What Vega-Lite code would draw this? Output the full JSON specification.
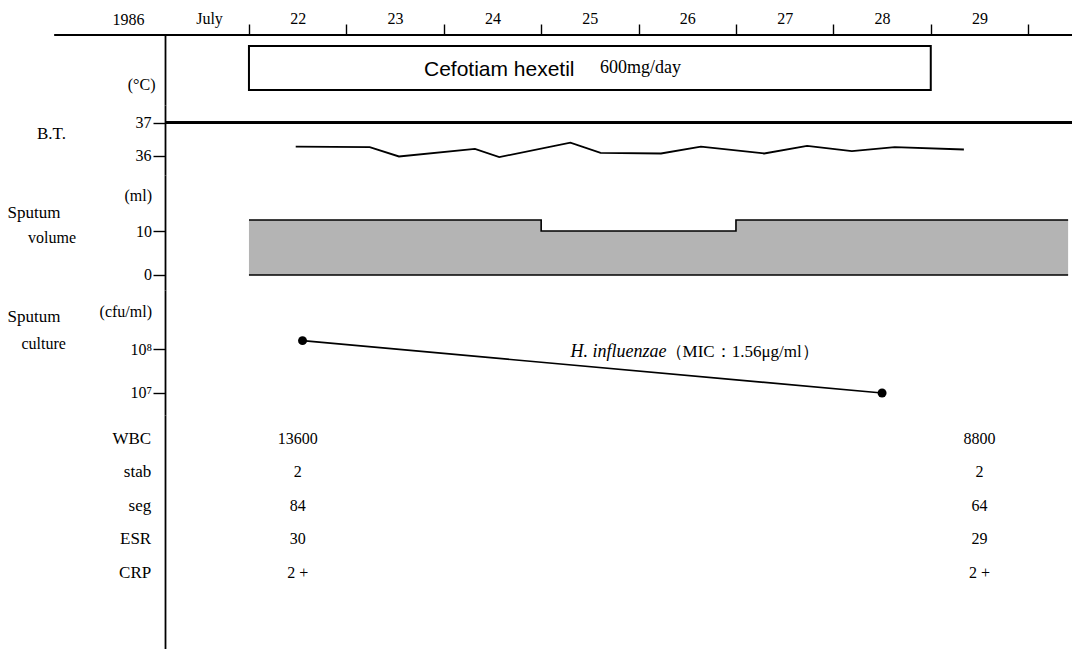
{
  "$schema": "https://vega.github.io/schema/vega-lite/v6.json",
  "autosize": {"type": "none"},
  "padding": {"left": 165, "top": 35, "right": 907, "bottom": 614},
  "background": "white",
  "bounds": "flush",
  "spacing": 0,
  "config": {
    "view": {"stroke": null},
    "font": "Liberation Serif",
    "axis": {"grid": false, "domainColor": "black", "domainWidth": 1.8, "tickColor": "black", "tickWidth": 1.4, "labelColor": "black", "titleColor": "black", "labelFont": "Liberation Serif", "titleFont": "Liberation Serif", "labelFontSize": 16, "titleFontSize": 17, "titleFontWeight": "normal", "labelOverlap": false, "labelFlush": false},
    "text": {"font": "Liberation Serif", "color": "black"}
  },
  "vconcat": [
    {
      "width": 907, "height": 70,
      "data": {"values": [{"drug": "Cefotiam hexetil", "dose": "600mg/day", "start": 22, "end": 29}]},
      "layer": [
        {
          "mark": {"type": "rect", "fill": "white", "stroke": "black", "strokeWidth": 2},
          "encoding": {
            "x": {"field": "start", "type": "quantitative", "scale": {"domain": [21.138, 30.45], "nice": false, "zero": false},
              "axis": {"orient": "top", "values": [21.138, 22, 23, 24, 25, 26, 27, 28, 29, 30], "tickCount": 40, "domain": false, "tickSize": 11, "labelPadding": 1, "labelBaseline": "alphabetic", "labelFontSize": 16,
                "labelOffset": {"condition": {"test": "datum.value < 21.9", "value": 44}, "value": 48.7},
                "tickOpacity": {"condition": {"test": "datum.value < 21.9", "value": 0}, "value": 1},
                "labelExpr": "datum.value < 21.9 ? 'July' : (datum.value > 29.5 ? '' : format(datum.value, 'd'))",
                "title": "1986", "titleX": -37, "titleY": -11, "titleAngle": 0, "titleAlign": "center", "titleBaseline": "alphabetic", "titleFontSize": 16}},
            "x2": {"field": "end"},
            "y": {"field": "drug", "type": "nominal", "scale": {"paddingInner": 0, "paddingOuter": 0.2955, "align": 0.423},
              "axis": {"labels": false, "ticks": false, "domain": true, "title": "(°C)", "titleAngle": 0, "titleX": -10, "titleY": 49, "titleAlign": "right", "titleBaseline": "middle", "titleFontSize": 16}}
          }
        },
        {
          "mark": {"type": "rule", "color": "black", "strokeWidth": 1.8},
          "encoding": {"x": {"datum": 20}, "x2": {"datum": 30.45}, "y": {"value": 0}}
        },
        {
          "mark": {"type": "text", "align": "left", "baseline": "middle", "font": "Liberation Sans", "fontSize": 21, "dx": 175, "dy": 2},
          "encoding": {"x": {"field": "start", "type": "quantitative"}, "y": {"field": "drug", "type": "nominal"}, "text": {"field": "drug"}}
        },
        {
          "mark": {"type": "text", "align": "left", "baseline": "middle", "fontSize": 18, "dx": 351, "dy": 0},
          "encoding": {"x": {"field": "start", "type": "quantitative"}, "y": {"field": "drug", "type": "nominal"}, "text": {"field": "dose"}}
        }
      ]
    },
    {
      "width": 907, "height": 70,
      "data": {"values": [
        {"day": 22.48, "temp": 36.28}, {"day": 23.24, "temp": 36.26}, {"day": 23.54, "temp": 35.98},
        {"day": 24.32, "temp": 36.21}, {"day": 24.57, "temp": 35.96}, {"day": 25.3, "temp": 36.4},
        {"day": 25.61, "temp": 36.09}, {"day": 26.23, "temp": 36.07}, {"day": 26.64, "temp": 36.28},
        {"day": 27.29, "temp": 36.07}, {"day": 27.73, "temp": 36.3}, {"day": 28.19, "temp": 36.14},
        {"day": 28.63, "temp": 36.26}, {"day": 29.34, "temp": 36.19}
      ]},
      "layer": [
        {
          "mark": {"type": "line", "color": "black", "strokeWidth": 1.8},
          "encoding": {
            "x": {"field": "day", "type": "quantitative", "scale": {"domain": [21.138, 30.45], "nice": false, "zero": false}, "axis": null},
            "y": {"field": "temp", "type": "quantitative", "scale": {"domain": [35.42, 37.535], "nice": false, "zero": false},
              "axis": {"values": [36, 37], "tickCount": 20, "format": "d", "tickSize": 12, "labelPadding": 2, "title": "B.T.", "titleAngle": 0, "titleX": -114, "titleY": 28, "titleAlign": "center", "titleBaseline": "middle"}}
          }
        },
        {
          "mark": {"type": "rule", "color": "black", "strokeWidth": 1.8},
          "encoding": {"y": {"datum": 37}}
        }
      ]
    },
    {
      "width": 907, "height": 115,
      "data": {"values": [
        {"day": 22, "ml": 12.5}, {"day": 25, "ml": 10}, {"day": 27, "ml": 12.5}, {"day": 30.41, "ml": 12.5}
      ]},
      "layer": [
        {
          "mark": {"type": "area", "interpolate": "step-after", "color": "#b4b4b4"},
          "encoding": {
            "x": {"field": "day", "type": "quantitative", "scale": {"domain": [21.138, 30.45], "nice": false, "zero": false}, "axis": null},
            "y": {"field": "ml", "type": "quantitative", "scale": {"domain": [-3.41, 22.73], "nice": false, "zero": false},
              "axis": {"values": [0, 8.41, 10, 18], "tickCount": 20, "tickSize": 12,
                "labelPadding": {"condition": {"test": "datum.value > 8 && datum.value < 9", "value": 125.5}, "value": 1.5},
                "labelAlign": {"condition": {"test": "datum.value > 8 && datum.value < 9", "value": "left"}, "value": "right"},
                "tickOpacity": {"condition": {"test": "(datum.value > 8 && datum.value < 9) || datum.value > 15", "value": 0}, "value": 1},
                "labelExpr": "datum.value > 15 ? '(ml)' : ((datum.value > 8 && datum.value < 9) ? 'volume' : format(datum.value, 'd'))",
                "title": "Sputum", "titleAngle": 0, "titleX": -158, "titleY": 37, "titleAlign": "left", "titleBaseline": "middle"}},
            "y2": {"datum": 0}
          }
        },
        {
          "mark": {"type": "line", "interpolate": "step-after", "color": "black", "strokeWidth": 1.6},
          "encoding": {"x": {"field": "day", "type": "quantitative"}, "y": {"field": "ml", "type": "quantitative"}}
        },
        {
          "mark": {"type": "rule", "color": "black", "strokeWidth": 1.6},
          "encoding": {"x": {"aggregate": "min", "field": "day", "type": "quantitative"}, "x2": {"aggregate": "max", "field": "day"}, "y": {"datum": 0}}
        }
      ]
    },
    {
      "width": 907, "height": 125,
      "data": {"values": [
        {"day": 22.55, "cfu": 155000000, "organism": "H. influenzae", "mic": "（MIC：1.56μg/ml）"},
        {"day": 28.5, "cfu": 10000000, "organism": "H. influenzae", "mic": "（MIC：1.56μg/ml）"}
      ]},
      "layer": [
        {
          "mark": {"type": "line", "color": "black", "strokeWidth": 1.6},
          "encoding": {
            "x": {"field": "day", "type": "quantitative", "scale": {"domain": [21.138, 30.45], "nice": false, "zero": false}, "axis": null},
            "y": {"field": "cfu", "type": "quantitative", "scale": {"type": "log", "domain": [3162000, 2193000000], "nice": false},
              "axis": {"values": [10000000, 100000000, 136900000, 730500000], "tickCount": 20, "tickSize": 12,
                "labelPadding": {"condition": {"test": "datum.value > 120000000 && datum.value < 200000000", "value": 132}, "value": 1.5},
                "labelAlign": {"condition": {"test": "datum.value > 120000000 && datum.value < 200000000", "value": "left"}, "value": "right"},
                "tickOpacity": {"condition": {"test": "datum.value > 120000000", "value": 0}, "value": 1},
                "labelExpr": "datum.value > 500000000 ? '(cfu/ml)' : (datum.value > 120000000 ? 'culture' : (datum.value > 50000000 ? '10⁸' : '10⁷'))",
                "title": "Sputum", "titleAngle": 0, "titleX": -158, "titleY": 26, "titleAlign": "left", "titleBaseline": "middle"}}
          }
        },
        {
          "mark": {"type": "point", "filled": true, "color": "black", "size": 80, "opacity": 1},
          "encoding": {"x": {"field": "day", "type": "quantitative"}, "y": {"field": "cfu", "type": "quantitative"}}
        },
        {
          "transform": [{"filter": "datum.day < 23"}],
          "mark": {"type": "text", "align": "left", "baseline": "middle", "fontSize": 18, "fontStyle": "italic", "dx": 268, "dy": 11.5},
          "encoding": {"x": {"field": "day", "type": "quantitative"}, "y": {"field": "cfu", "type": "quantitative"}, "text": {"field": "organism"}}
        },
        {
          "transform": [{"filter": "datum.day < 23"}],
          "mark": {"type": "text", "align": "left", "baseline": "middle", "fontSize": 17, "dx": 363, "dy": 11.5},
          "encoding": {"x": {"field": "day", "type": "quantitative"}, "y": {"field": "cfu", "type": "quantitative"}, "text": {"field": "mic"}}
        }
      ]
    },
    {
      "width": 907, "height": 234,
      "data": {"values": [
        {"test": "WBC", "day": 22.5, "result": "13600"}, {"test": "stab", "day": 22.5, "result": "2"},
        {"test": "seg", "day": 22.5, "result": "84"}, {"test": "ESR", "day": 22.5, "result": "30"},
        {"test": "CRP", "day": 22.5, "result": "2 +"},
        {"test": "WBC", "day": 29.5, "result": "8800"}, {"test": "stab", "day": 29.5, "result": "2"},
        {"test": "seg", "day": 29.5, "result": "64"}, {"test": "ESR", "day": 29.5, "result": "29"},
        {"test": "CRP", "day": 29.5, "result": "2 +"}
      ]},
      "mark": {"type": "text", "fontSize": 16, "baseline": "middle", "align": "center"},
      "encoding": {
        "x": {"field": "day", "type": "quantitative", "scale": {"domain": [21.138, 30.45], "nice": false, "zero": false}, "axis": null},
        "y": {"field": "test", "type": "nominal", "sort": ["WBC", "stab", "seg", "ESR", "CRP"], "scale": {"type": "band", "paddingInner": 0, "paddingOuter": 1.1, "align": 0.108},
          "axis": {"title": null, "ticks": false, "tickSize": 0, "labelPadding": 14.3, "labelFontSize": 17, "domain": true}},
        "text": {"field": "result"}
      }
    }
  ]
}
